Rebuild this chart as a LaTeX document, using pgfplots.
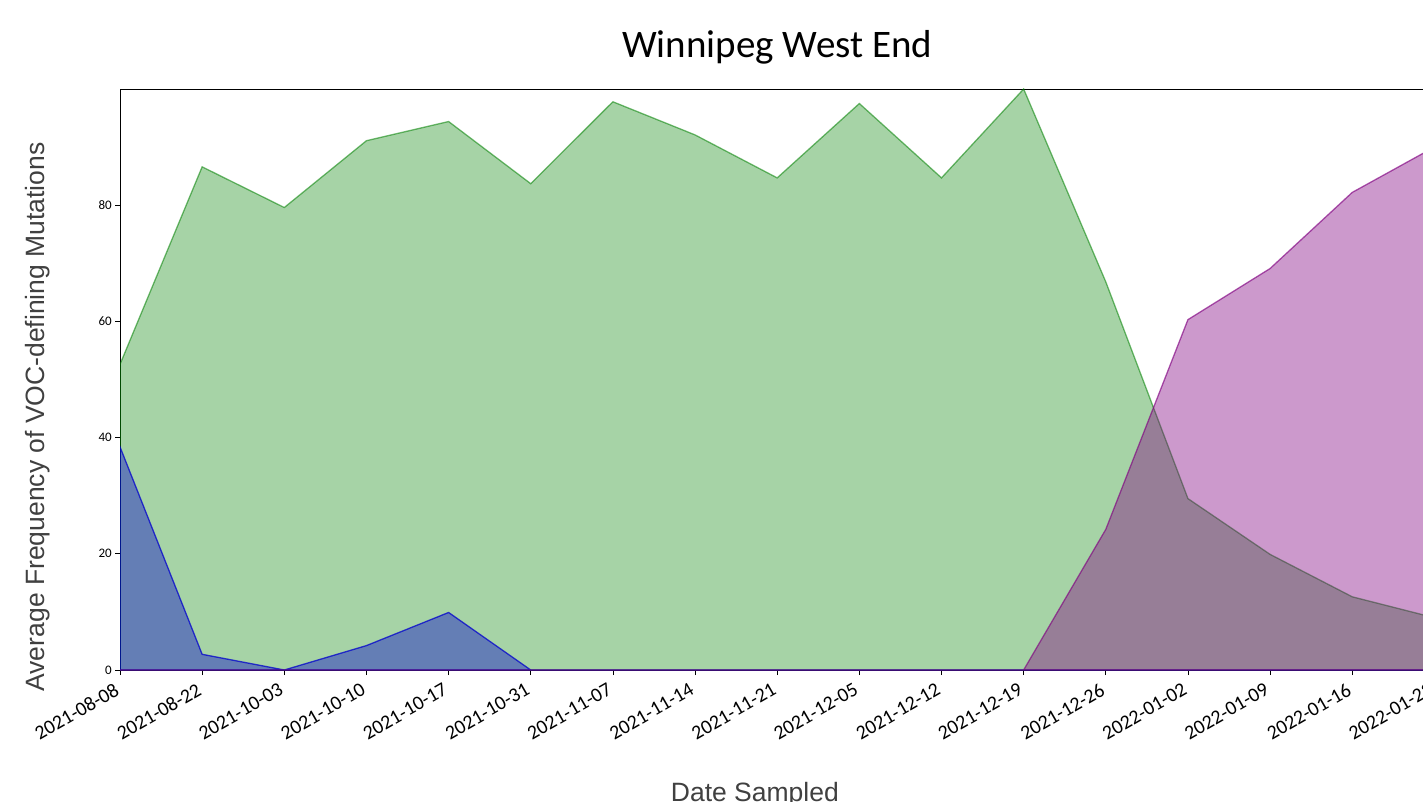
\documentclass[border=0pt]{standalone}
\usepackage{pgfplots}
\pgfplotsset{compat=1.18}
\usepackage{fontspec}
\setmainfont{Carlito}
\newfontfamily\arialfont{Liberation Sans}
\definecolor{mplgreen}{RGB}{0,128,0}
\definecolor{mplblue}{RGB}{0,0,205}
\definecolor{mplpurple}{RGB}{128,0,128}
\definecolor{labelgrey}{RGB}{64,64,64}
\begin{document}
\begin{tikzpicture}
\clip (0pt,0pt) rectangle (1423pt,801pt);
\useasboundingbox (0pt,0pt) rectangle (1423pt,801pt);
\begin{axis}[
  at={(120pt,131pt)}, anchor=south west,
  scale only axis,
  width=1314.4pt, height=581pt,
  xmin=0, xmax=16, ymin=0, ymax=100,
  xtick={0,...,16},
  xticklabels={2021-08-08,2021-08-22,2021-10-03,2021-10-10,2021-10-17,2021-10-31,2021-11-07,2021-11-14,2021-11-21,2021-12-05,2021-12-12,2021-12-19,2021-12-26,2022-01-02,2022-01-09,2022-01-16,2022-01-23},
  ytick={0,20,40,60,80},
  tick align=outside,
  major tick length=5pt,
  tick style={black, line width=0.8pt},
  xtick pos=bottom, ytick pos=left,
  axis line style={black, line width=0.8pt},
  /pgf/number format/assume math mode=true,
  xticklabel style={font=\fontsize{20}{22}\selectfont, rotate=30, anchor=north east, inner sep=2pt, xshift=-7pt, yshift=-1pt},
  yticklabel style={font=\fontsize{13}{15}\selectfont, inner sep=3pt},
  every axis title shift=0pt,
  title={\fontsize{39}{44}\selectfont Winnipeg West End},
  title style={at={(axis description cs:0.5,1.0534)}, anchor=base, inner sep=0pt},
  xlabel={\arialfont\fontsize{26.5}{30}\selectfont Date Sampled},
  xlabel style={at={(axis description cs:0.483,-0.2255)}, anchor=base, inner sep=0pt, text=labelgrey},
  ylabel={\arialfont\fontsize{26.5}{30}\selectfont Average Frequency of VOC-defining Mutations},
  ylabel style={at={(axis description cs:-0.0571,0.4355)}, anchor=base, rotate=0, inner sep=0pt, text=labelgrey},
  clip=true,
]
% green
\addplot[draw=mplgreen, draw opacity=0.55, line width=1.3pt, fill=mplgreen, fill opacity=0.35] coordinates {
(0,52.6) (1,86.6) (2,79.6) (3,91.1) (4,94.4) (5,83.7) (6,97.8) (7,92.1) (8,84.7) (9,97.5) (10,84.7) (11,100) (12,66.8) (13,29.5) (14,19.9) (15,12.6) (16,9.0)
} \closedcycle;
% blue
\addplot[draw=mplblue, draw opacity=0.75, line width=1.3pt, fill=mplblue, fill opacity=0.4] coordinates {
(0,38.4) (1,2.7) (2,0) (3,4.2) (4,9.9) (5,0) (6,0) (7,0) (8,0) (9,0) (10,0) (11,0) (12,0) (13,0) (14,0) (15,0) (16,0)
} \closedcycle;
% purple
\addplot[draw=mplpurple, draw opacity=0.65, line width=1.3pt, fill=mplpurple, fill opacity=0.4] coordinates {
(0,0) (1,0) (2,0) (3,0) (4,0) (5,0) (6,0) (7,0) (8,0) (9,0) (10,0) (11,0) (12,24.2) (13,60.3) (14,69.1) (15,82.2) (16,90.0)
} \closedcycle;
\end{axis}
\end{tikzpicture}
\end{document}
